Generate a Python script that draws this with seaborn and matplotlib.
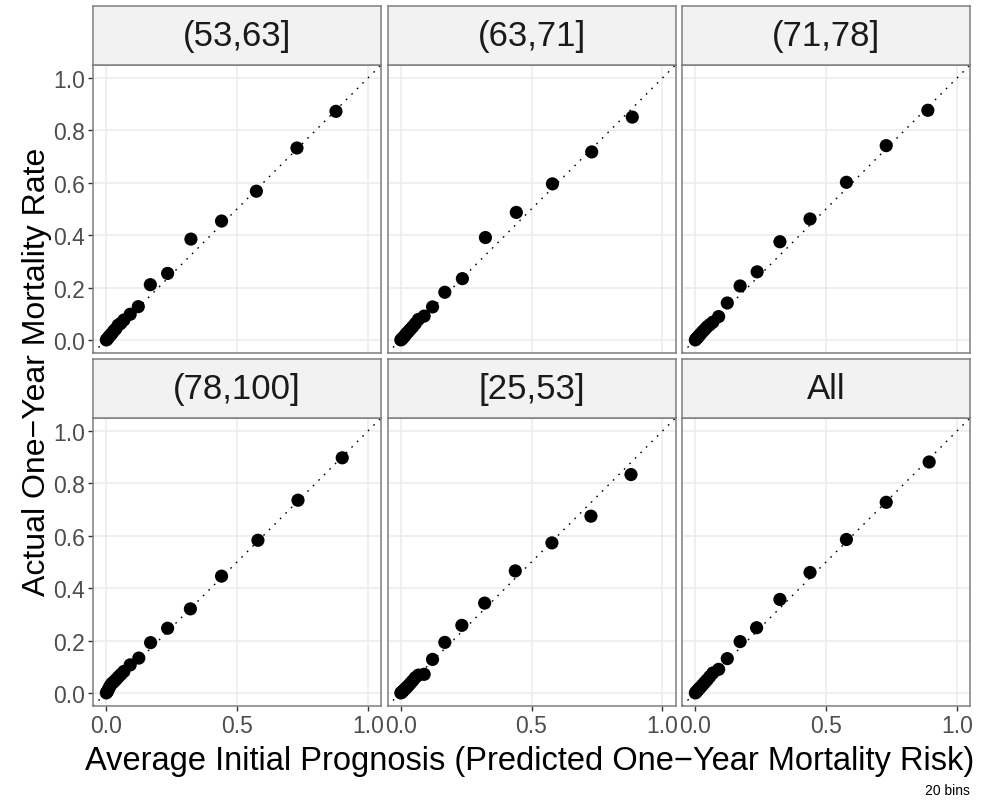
import matplotlib
matplotlib.use("Agg")
import matplotlib.pyplot as plt
import seaborn as sns
import pandas as pd

# facet labels, in the order they are laid out
panels = ["(53,63]", "(63,71]", "(71,78]", "(78,100]", "[25,53]", "All"]

# average predicted risk per bin (20 bins)
pred_53_63 = [0.001, 0.004, 0.007, 0.011, 0.016, 0.022, 0.029, 0.037, 0.046, 0.056, 0.068,
              0.092, 0.123, 0.169, 0.235, 0.324, 0.441, 0.574, 0.729, 0.878]
pred_63_71 = [0.001, 0.004, 0.007, 0.011, 0.016, 0.022, 0.029, 0.037, 0.046, 0.056, 0.068,
              0.090, 0.122, 0.169, 0.236, 0.324, 0.442, 0.580, 0.730, 0.885]
pred_71_78 = [0.001, 0.004, 0.007, 0.011, 0.016, 0.022, 0.029, 0.037, 0.046, 0.056, 0.068,
              0.090, 0.123, 0.172, 0.237, 0.324, 0.439, 0.578, 0.730, 0.889]
pred_78_100 = [0.001, 0.004, 0.007, 0.011, 0.016, 0.022, 0.029, 0.037, 0.046, 0.056, 0.068,
               0.092, 0.125, 0.170, 0.235, 0.322, 0.441, 0.580, 0.733, 0.902]
pred_25_53 = [0.001, 0.004, 0.007, 0.011, 0.016, 0.022, 0.029, 0.037, 0.046, 0.056, 0.068,
              0.090, 0.122, 0.169, 0.234, 0.321, 0.438, 0.578, 0.727, 0.880]
pred_all = [0.001, 0.004, 0.007, 0.011, 0.016, 0.022, 0.029, 0.037, 0.046, 0.056, 0.068,
            0.090, 0.123, 0.172, 0.235, 0.324, 0.439, 0.578, 0.730, 0.894]

# observed one-year mortality per bin
obs_53_63 = [0.000, 0.003, 0.007, 0.012, 0.018, 0.024, 0.034, 0.042, 0.056, 0.063, 0.076,
             0.098, 0.127, 0.211, 0.254, 0.385, 0.454, 0.568, 0.733, 0.873]
obs_63_71 = [0.000, 0.003, 0.006, 0.010, 0.016, 0.024, 0.031, 0.040, 0.050, 0.062, 0.078,
             0.091, 0.126, 0.182, 0.234, 0.391, 0.487, 0.596, 0.718, 0.851]
obs_71_78 = [0.000, 0.004, 0.007, 0.011, 0.017, 0.024, 0.032, 0.040, 0.050, 0.058, 0.068,
             0.089, 0.141, 0.206, 0.260, 0.375, 0.462, 0.602, 0.742, 0.877]
obs_78_100 = [0.000, 0.004, 0.010, 0.018, 0.028, 0.036, 0.042, 0.050, 0.060, 0.070, 0.082,
              0.107, 0.133, 0.192, 0.247, 0.321, 0.446, 0.583, 0.736, 0.898]
obs_25_53 = [0.000, 0.002, 0.005, 0.009, 0.014, 0.020, 0.027, 0.036, 0.046, 0.058, 0.068,
             0.071, 0.128, 0.193, 0.258, 0.343, 0.466, 0.573, 0.675, 0.834]
obs_all = [0.000, 0.003, 0.007, 0.011, 0.017, 0.023, 0.031, 0.040, 0.050, 0.062, 0.076,
           0.090, 0.131, 0.196, 0.249, 0.357, 0.460, 0.586, 0.728, 0.882]

x_ticks = [0.0, 0.5, 1.0]
x_tick_labels = ["0.0", "0.5", "1.0"]
y_ticks = [0.0, 0.2, 0.4, 0.6, 0.8, 1.0]
y_tick_labels = ["0.0", "0.2", "0.4", "0.6", "0.8", "1.0"]

preds = [pred_53_63, pred_63_71, pred_71_78, pred_78_100, pred_25_53, pred_all]
obss = [obs_53_63, obs_63_71, obs_71_78, obs_78_100, obs_25_53, obs_all]
df = pd.concat([pd.DataFrame({"group": g, "pred": p, "obs": o})
                for g, p, o in zip(panels, preds, obss)], ignore_index=True)

sns.set_theme(style="whitegrid")
plt.rcParams['font.family'] = ['Liberation Sans', 'DejaVu Sans']

W, H = 981, 804
fig = plt.figure(figsize=(W / 100, H / 100), dpi=100)

# panel layout in pixels
col_left = [93, 387.5, 682]
row_top = [66, 419]
pw, ph, sh = 288, 288, 59

for i, name in enumerate(panels):
    r, c = divmod(i, 3)
    left = col_left[c] / W
    bottom = (H - row_top[r] - ph) / H
    ax = fig.add_axes([left, bottom, pw / W, ph / H])
    ax.set_facecolor("white")
    ax.axline((0, 0), slope=1, color="black", lw=1.0, dashes=(1.2, 4.4), zorder=2)
    sns.scatterplot(data=df[df.group == name], x="pred", y="obs", ax=ax,
                    color="black", s=90, edgecolor="none", legend=False, zorder=3)
    ax.set_xlim(-0.05, 1.05)
    ax.set_ylim(-0.05, 1.05)
    ax.set_xticks(x_ticks)
    ax.set_yticks(y_ticks)
    ax.grid(True, color="#EBEBEB", lw=1.1)
    ax.set_axisbelow(True)
    for sp in ax.spines.values():
        sp.set_color("#7F7F7F")
        sp.set_linewidth(1.1)
    ax.set_xlabel("")
    ax.set_ylabel("")
    ax.tick_params(length=3.5, width=1.0, color="#333333", labelcolor="#4D4D4D",
                   labelsize=16.5, pad=2.5)
    if r == 1:
        ax.set_xticklabels(x_tick_labels)
        ax.tick_params(axis="x", bottom=True)
    else:
        ax.tick_params(axis="x", bottom=False, labelbottom=False)
    if c == 0:
        ax.set_yticklabels(y_tick_labels)
        ax.tick_params(axis="y", left=True)
    else:
        ax.tick_params(axis="y", left=False, labelleft=False)

    # facet strip
    sax = fig.add_axes([left, (H - row_top[r]) / H, pw / W, sh / H])
    sax.set_facecolor("#F2F2F2")
    sax.set_xticks([])
    sax.set_yticks([])
    sax.grid(False)
    for sp in sax.spines.values():
        sp.set_color("#7F7F7F")
        sp.set_linewidth(1.1)
    sax.text(0.5, 0.5, name, ha="center", va="center", fontsize=25,
             color="#1A1A1A", transform=sax.transAxes)

fig.text(530 / W, (H - 770) / H,
         "Average Initial Prognosis (Predicted One\u2212Year Mortality Risk)",
         ha="center", va="baseline", fontsize=23.5, color="black")
fig.text(37 / W, 1 - 372 / H, "Actual One\u2212Year Mortality Rate",
         ha="center", va="center", rotation=90, fontsize=23, color="black")
fig.text(970 / W, (H - 795) / H, "20 bins", ha="right", va="baseline",
         fontsize=10, color="black")

fig.savefig("out.png", dpi=100)
